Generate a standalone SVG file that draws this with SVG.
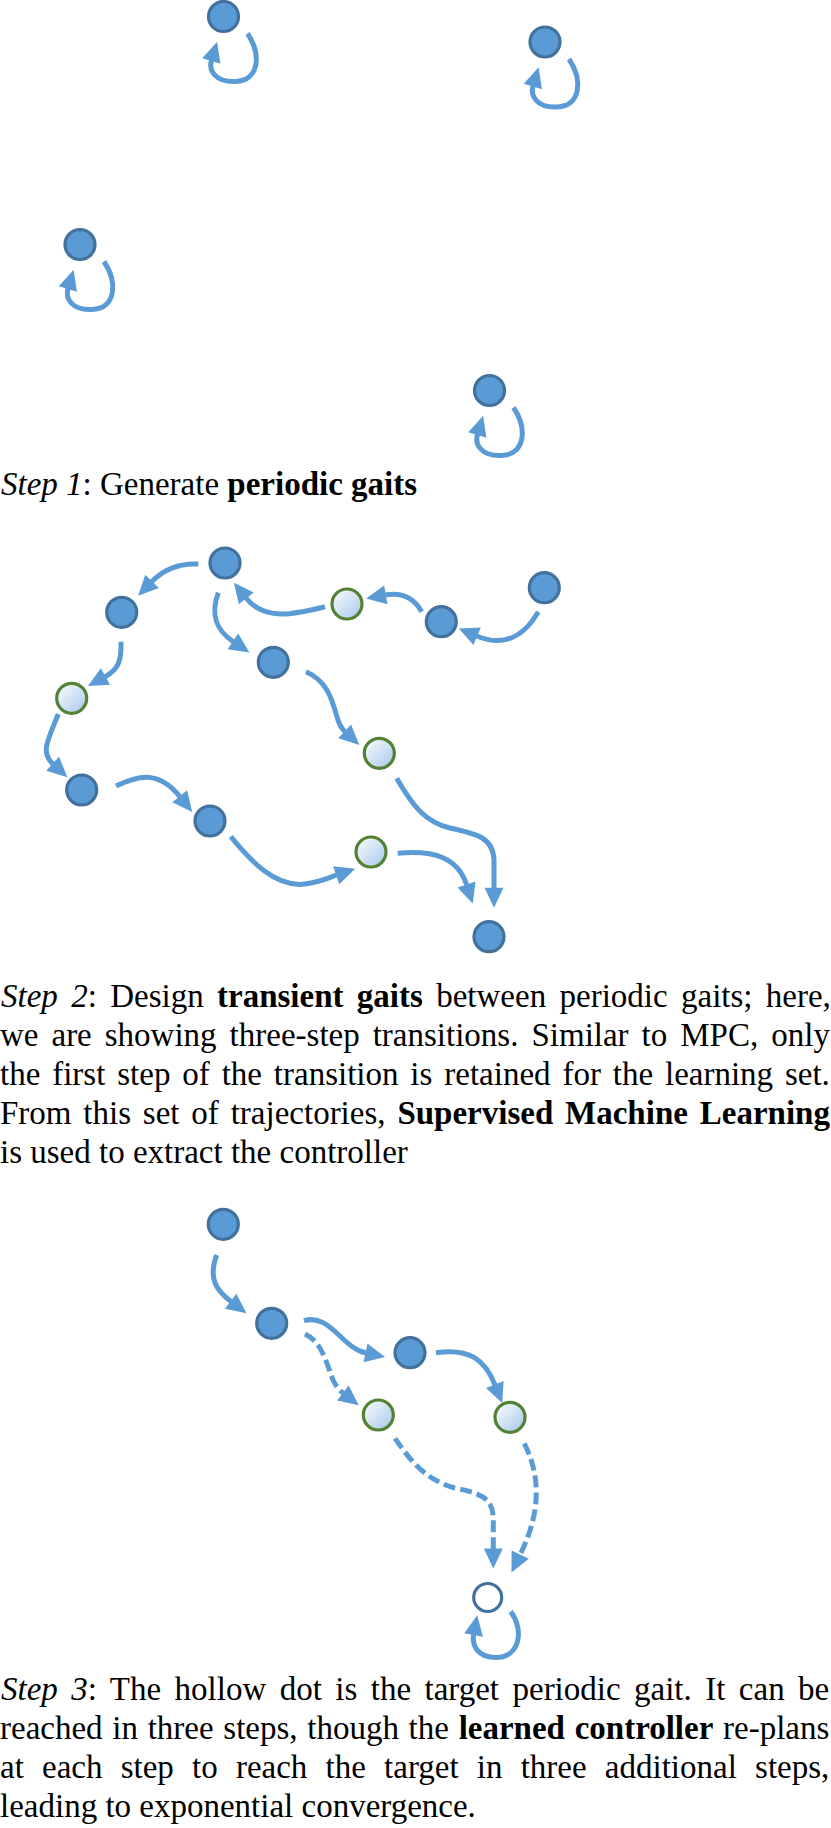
<svg xmlns="http://www.w3.org/2000/svg" width="831" height="1828" viewBox="0 0 831 1828">
<style>
.bn{fill:#5B9BD5;stroke:#41719C;stroke-width:3.2}
.gn{fill:url(#gg);stroke:#548235;stroke-width:3.2}
.hn{fill:#FFFFFF;stroke:#41719C;stroke-width:3.2}
.e{fill:none;stroke:#5B9BD5;stroke-width:5;marker-end:url(#arr)}
.d{stroke-dasharray:12 5}
.t{font-family:"Liberation Serif","Times New Roman",serif;font-size:33px;fill:#000}
.i{font-style:italic}
.b{font-weight:bold}
</style>
<defs>
<linearGradient id="gg" x1="0" y1="0" x2="1" y2="1">
<stop offset="0" stop-color="#FFFFFF"/>
<stop offset="1" stop-color="#A4C6EA"/>
</linearGradient>
<marker id="arr" markerUnits="userSpaceOnUse" markerWidth="21" markerHeight="20" refX="0.5" refY="9.5" orient="auto" overflow="visible">
<path d="M0,0 L20,9.5 L0,19 Z" fill="#5B9BD5"/>
</marker>
</defs>
<rect width="831" height="1828" fill="#FFFFFF"/>

<g id="connectors">
<path class="e" d="M247.5,33.5 C261.5,54.5 259.5,80.5 235.5,81.5 C215.5,82.5 208.5,70.5 211.5,60.5"/>
<path class="e" d="M569,59 C583,80 581,106 557,107 C537,108 530,96 533,86"/>
<path class="e" d="M104,261.5 C118,282.5 116,308.5 92,309.5 C72,310.5 65,298.5 68,288.5"/>
<path class="e" d="M513.5,407.5 C527.5,428.5 525.5,454.5 501.5,455.5 C481.5,456.5 474.5,444.5 477.5,434.5"/>
<path class="e" d="M198.3,564 C178,563 163,570 151.7,581.7"/>
<path class="e" d="M121,641.7 C121.5,660 119,669 105,676.7"/>
<path class="e" d="M58.3,714 C48,740 40,752 53,764"/>
<path class="e" d="M116,786 C135,777 157,768 180,796.7"/>
<path class="e" d="M230.7,836.7 C250,860 275,888 305,884 C320,882 328,878 336.7,875"/>
<path class="e" d="M397.7,853.3 C435,850 458,858 466.7,885"/>
<path class="e" d="M396.7,778.3 C412,805 425,822 450,828 C478,834 493,838 494,860 L494,888.3"/>
<path class="e" d="M218.3,592.7 C210,615 216,630 233.3,641.7"/>
<path class="e" d="M306,671.7 C330,682 333,705 338,720 C340,726 341,728 345,731.7"/>
<path class="e" d="M325,606.7 C295,614 265,622 246,598"/>
<path class="e" d="M421.7,611.7 C414,598 402,592 385.3,595"/>
<path class="e" d="M538.3,611.7 C525,635 505,648 476.7,636"/>
<path class="e" d="M216.7,1255 C208,1278 216,1290 231,1301.5"/>
<path class="e" d="M304,1320.7 C330,1313 342,1348 366,1353"/>
<path class="e" d="M436,1352.7 C470,1348 485,1360 495,1385"/>
<path class="e d" d="M305,1334 C322,1342 326,1362 333,1380 C336,1386 339,1390 343.3,1393.3"/>
<path class="e d" d="M395,1438.3 C410,1460 425,1480 455,1488 C485,1494 493,1500 493.3,1520 L493.3,1549"/>
<path class="e d" d="M524.3,1443.3 C540,1475 542,1510 520,1555"/>
<path class="e" d="M510.7,1611.5 C524.7,1630.5 519.7,1657.5 495.7,1657.5 C477.7,1657.5 471.7,1645.5 473.7,1634.5"/>
</g>

<g id="s1-n1"><circle class="bn" cx="223.5" cy="16.5" r="15"/></g>
<g id="s1-n2"><circle class="bn" cx="545" cy="42" r="15"/></g>
<g id="s1-n3"><circle class="bn" cx="80" cy="244.5" r="15"/></g>
<g id="s1-n4"><circle class="bn" cx="489.5" cy="390.5" r="15"/></g>

<g id="s2-n1"><circle class="bn" cx="225" cy="563" r="15"/></g>
<g id="s2-n2"><circle class="bn" cx="121.7" cy="612.3" r="15"/></g>
<g id="s2-n3"><circle class="gn" cx="71.7" cy="698.3" r="15"/></g>
<g id="s2-n4"><circle class="bn" cx="81.7" cy="790" r="15"/></g>
<g id="s2-n5"><circle class="bn" cx="210" cy="821" r="15"/></g>
<g id="s2-n6"><circle class="gn" cx="371" cy="852" r="15"/></g>
<g id="s2-n7"><circle class="bn" cx="489" cy="936.7" r="15"/></g>
<g id="s2-n8"><circle class="bn" cx="273.3" cy="662.3" r="15"/></g>
<g id="s2-n9"><circle class="gn" cx="379.3" cy="753.3" r="15"/></g>
<g id="s2-n10"><circle class="gn" cx="347" cy="604" r="15"/></g>
<g id="s2-n11"><circle class="bn" cx="441.3" cy="621.7" r="15"/></g>
<g id="s2-n12"><circle class="bn" cx="544.3" cy="587.7" r="15"/></g>

<g id="s3-n1"><circle class="bn" cx="223.3" cy="1224.3" r="15"/></g>
<g id="s3-n2"><circle class="bn" cx="271.7" cy="1323.3" r="15"/></g>
<g id="s3-n3"><circle class="bn" cx="410" cy="1352.7" r="15"/></g>
<g id="s3-n4"><circle class="gn" cx="378.3" cy="1415" r="15"/></g>
<g id="s3-n5"><circle class="gn" cx="510" cy="1417.3" r="15"/></g>
<g id="s3-target"><circle class="hn" cx="487.7" cy="1597.5" r="14"/></g>

<g id="captions">
<text class="t" x="1" y="495"><tspan class="i">Step 1</tspan>: Generate <tspan class="b">periodic gaits</tspan></text>

<text class="t" x="1" y="1006.5" word-spacing="5.1"><tspan class="i">Step 2</tspan>: Design <tspan class="b">transient gaits</tspan> between periodic gaits; here,</text>
<text class="t" x="0" y="1045.6" word-spacing="4.75">we are showing three-step transitions. Similar to MPC, only</text>
<text class="t" x="0" y="1084.7" word-spacing="3.63">the first step of the transition is retained for the learning set.</text>
<text class="t" x="0" y="1123.8" word-spacing="3.59">From this set of trajectories, <tspan class="b">Supervised Machine Learning</tspan></text>
<text class="t" x="0" y="1162.9">is used to extract the controller</text>

<text class="t" x="1" y="1700" word-spacing="5.2"><tspan class="i">Step 3</tspan>: The hollow dot is the target periodic gait. It can be</text>
<text class="t" x="0" y="1739" word-spacing="1.45">reached in three steps, though the <tspan class="b">learned controller</tspan> re-plans</text>
<text class="t" x="0" y="1778" word-spacing="9.96">at each step to reach the target in three additional steps,</text>
<text class="t" x="0" y="1817">leading to exponential convergence.</text>
</g>
</svg>
